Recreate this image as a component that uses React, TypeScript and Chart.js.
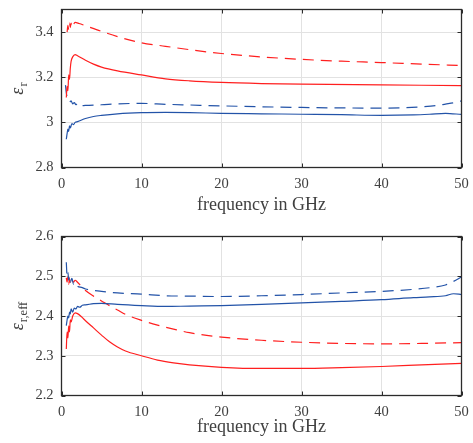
import React, { useEffect, useRef } from 'react';
import { Chart, registerables } from 'chart.js';

Chart.register(...registerables);

// ---------- tick labels ----------
const X_TICKS = [0, 10, 20, 30, 40, 50];
const TOP_Y_TICKS = [2.8, 3.0, 3.2, 3.4];
const BOT_Y_TICKS = [2.2, 2.3, 2.4, 2.5, 2.6];
const X_TITLE = 'frequency in GHz';

// ---------- top panel: eps_r ----------
const TOP_RED_DASH_F = [0.7, 0.8, 0.9, 1.0, 1.1, 1.2, 1.3, 1.7, 2.2, 3, 5, 7, 10, 13, 16, 20, 25, 30, 35, 40, 45, 50];
const TOP_RED_DASH_V = [3.40, 3.43, 3.41, 3.44, 3.42, 3.44, 3.42, 3.443, 3.438, 3.428, 3.403, 3.380, 3.352, 3.337, 3.322, 3.305, 3.290, 3.279, 3.271, 3.265, 3.258, 3.252];

const TOP_RED_SOLID_F = [0.6, 0.7, 0.8, 0.9, 1.0, 1.1, 1.2, 1.4, 1.7, 2, 3, 4, 5, 7, 10, 13, 16, 20, 25, 30, 40, 50];
const TOP_RED_SOLID_V = [3.11, 3.16, 3.14, 3.21, 3.19, 3.24, 3.27, 3.29, 3.30, 3.295, 3.275, 3.258, 3.245, 3.228, 3.21, 3.193, 3.184, 3.177, 3.172, 3.169, 3.166, 3.163];

const TOP_BLUE_DASH_F = [0.5, 0.6, 0.8, 1.0, 1.2, 1.4, 1.6, 1.8, 2.0, 2.3, 3, 5, 7, 10, 13, 16, 20, 25, 30, 35, 40, 43, 45, 47, 48, 49, 50];
const TOP_BLUE_DASH_V = [3.165, 3.13, 3.105, 3.09, 3.095, 3.082, 3.088, 3.078, 3.084, 3.073, 3.075, 3.078, 3.082, 3.084, 3.080, 3.077, 3.073, 3.069, 3.066, 3.064, 3.063, 3.065, 3.069, 3.075, 3.081, 3.087, 3.095];

const TOP_BLUE_SOLID_F = [0.6, 0.7, 0.8, 0.9, 1.0, 1.1, 1.3, 1.5, 1.7, 2.0, 3, 4, 5, 7, 10, 13, 16, 20, 25, 30, 35, 40, 44, 46, 48, 50];
const TOP_BLUE_SOLID_V = [2.925, 2.95, 2.97, 2.96, 2.985, 2.975, 2.995, 2.99, 3.00, 3.003, 3.017, 3.026, 3.031, 3.038, 3.043, 3.044, 3.043, 3.040, 3.038, 3.036, 3.034, 3.031, 3.033, 3.036, 3.040, 3.035];

// ---------- bottom panel: eps_r,eff ----------
const BOT_BLUE_DASH_F = [0.6, 0.7, 0.8, 0.9, 1.0, 1.1, 1.3, 1.5, 1.7, 2.0, 2.5, 3, 5, 7, 10, 13, 16, 20, 25, 30, 35, 40, 44, 46, 48, 49, 50];
const BOT_BLUE_DASH_V = [2.535, 2.50, 2.51, 2.49, 2.50, 2.485, 2.495, 2.48, 2.485, 2.475, 2.472, 2.468, 2.462, 2.458, 2.455, 2.451, 2.450, 2.449, 2.451, 2.454, 2.458, 2.462, 2.467, 2.471, 2.478, 2.487, 2.498];

const BOT_BLUE_SOLID_F = [0.6, 0.7, 0.8, 0.9, 1.0, 1.1, 1.2, 1.4, 1.6, 1.8, 2.0, 2.3, 2.6, 3, 4, 5, 7, 10, 13, 16, 20, 25, 30, 35, 40, 44, 46, 48, 49, 50];
const BOT_BLUE_SOLID_V = [2.376, 2.39, 2.40, 2.395, 2.41, 2.405, 2.418, 2.41, 2.42, 2.418, 2.424, 2.422, 2.427, 2.428, 2.431, 2.432, 2.429, 2.426, 2.424, 2.425, 2.426, 2.429, 2.433, 2.437, 2.441, 2.446, 2.448, 2.451, 2.456, 2.454];

const BOT_RED_DASH_F = [0.6, 0.7, 0.8, 0.9, 1.0, 1.1, 1.3, 1.5, 1.7, 2.0, 2.5, 3, 4, 5, 6, 7, 8, 10, 12, 14, 16, 20, 25, 30, 35, 40, 45, 50];
const BOT_RED_DASH_V = [2.496, 2.485, 2.50, 2.48, 2.495, 2.48, 2.49, 2.485, 2.49, 2.485, 2.474, 2.464, 2.45, 2.438, 2.426, 2.415, 2.404, 2.389, 2.377, 2.367, 2.358, 2.347, 2.339, 2.334, 2.331, 2.330, 2.331, 2.333];

const BOT_RED_SOLID_F = [0.6, 0.7, 0.8, 0.9, 1.0, 1.1, 1.2, 1.4, 1.7, 2.0, 2.5, 3, 4, 5, 6, 7, 8, 10, 12, 14, 16, 20, 25, 30, 35, 40, 45, 50];
const BOT_RED_SOLID_V = [2.317, 2.36, 2.345, 2.375, 2.36, 2.39, 2.385, 2.40, 2.408, 2.406, 2.398, 2.388, 2.370, 2.352, 2.335, 2.322, 2.312, 2.300, 2.289, 2.282, 2.277, 2.271, 2.268, 2.268, 2.270, 2.273, 2.277, 2.281];

// ---------- styles ----------
const RED = '#ff1f1f';
const BLUE = '#2353a8';
const DASH = [11, 7];
const TEXT = '#404040';
const AXIS = '#2b2b2b';
const GRID = '#e2e2e2';
const FONT = "'Liberation Serif', 'Times New Roman', serif";

const pts = (f: number[], v: number[]) => f.map((x, i) => ({ x, y: v[i] }));

const line = (f: number[], v: number[], color: string, dashed: boolean) => ({
  data: pts(f, v),
  borderColor: color,
  borderWidth: 1.2,
  borderDash: dashed ? DASH : [],
  pointRadius: 0,
  fill: false,
  cubicInterpolationMode: 'monotone' as const,
});

const fmt = (v: number) => String(Number(v.toFixed(2)));

function framePlugin(sub: string) {
  return {
    id: 'frame',
    afterDatasetsDraw(chart: any) {
      const { ctx, chartArea: a, scales } = chart;
      ctx.save();
      ctx.strokeStyle = AXIS;
      ctx.lineWidth = 1;
      ctx.beginPath();
      for (const t of scales.x.ticks) {
        const px = Math.round(scales.x.getPixelForValue(t.value)) + 0.5;
        ctx.moveTo(px, a.bottom); ctx.lineTo(px, a.bottom - 4);
        ctx.moveTo(px, a.top); ctx.lineTo(px, a.top + 4);
      }
      for (const t of scales.y.ticks) {
        const py = Math.round(scales.y.getPixelForValue(t.value)) + 0.5;
        ctx.moveTo(a.left, py); ctx.lineTo(a.left + 4, py);
        ctx.moveTo(a.right, py); ctx.lineTo(a.right - 4, py);
      }
      ctx.stroke();
      ctx.lineWidth = 1.3;
      ctx.strokeRect(a.left, a.top, a.right - a.left, a.bottom - a.top);

      // y-axis title: epsilon with subscript
      const yc = (a.top + a.bottom) / 2;
      ctx.translate(23, yc);
      ctx.rotate(-Math.PI / 2);
      ctx.fillStyle = TEXT;
      ctx.textBaseline = 'alphabetic';
      ctx.textAlign = 'left';
      const mainFont = `italic 18px ${FONT}`;
      const subFont = `12.5px ${FONT}`;
      ctx.font = mainFont;
      const w1 = ctx.measureText('ε').width;
      ctx.font = subFont;
      const w2 = ctx.measureText(sub).width;
      const x0 = -(w1 + w2 + 1) / 2;
      ctx.font = mainFont;
      ctx.fillText('ε', x0, 0);
      ctx.font = subFont;
      ctx.fillText(sub, x0 + w1 + 1, 3.5);
      ctx.restore();
    },
  };
}

function makeConfig(
  datasets: any[],
  yTicks: number[],
  yMin: number,
  yMax: number,
  sub: string,
  topPad: number,
  xHeight: number,
  titlePad: number
): any {
  return {
    type: 'line',
    data: { datasets },
    options: {
      animation: false,
      responsive: false,
      events: [],
      layout: { padding: { left: 0, right: 11.5, top: topPad, bottom: 0 } },
      plugins: { legend: { display: false }, tooltip: { enabled: false } },
      scales: {
        x: {
          type: 'linear',
          min: 0,
          max: 50,
          afterBuildTicks: (s: any) => { s.ticks = X_TICKS.map((value) => ({ value })); },
          afterFit: (s: any) => { s.height = xHeight; s.paddingLeft = 0; s.paddingRight = 0; },
          grid: { color: GRID, lineWidth: 1, drawTicks: false },
          border: { display: false },
          ticks: { color: TEXT, font: { family: FONT, size: 14.5 }, padding: 8, maxRotation: 0, callback: (v: any) => fmt(Number(v)) },
          title: { display: true, text: X_TITLE, color: TEXT, font: { family: FONT, size: 18 }, padding: { top: 0, bottom: titlePad } },
        },
        y: {
          type: 'linear',
          min: yMin,
          max: yMax,
          afterBuildTicks: (s: any) => { s.ticks = yTicks.map((value) => ({ value })); },
          afterFit: (s: any) => { s.width = 61.5; s.paddingTop = 0; s.paddingBottom = 0; },
          grid: { color: GRID, lineWidth: 1, drawTicks: false },
          border: { display: false },
          ticks: { color: TEXT, font: { family: FONT, size: 14.5 }, padding: 8, callback: (v: any) => fmt(Number(v)) },
        },
      },
    },
    plugins: [framePlugin(sub)],
  };
}

export default function App() {
  const topRef = useRef<HTMLCanvasElement>(null);
  const botRef = useRef<HTMLCanvasElement>(null);

  useEffect(() => {
    const top = new Chart(
      topRef.current as HTMLCanvasElement,
      makeConfig(
        [
          line(TOP_RED_DASH_F, TOP_RED_DASH_V, RED, true),
          line(TOP_RED_SOLID_F, TOP_RED_SOLID_V, RED, false),
          line(TOP_BLUE_DASH_F, TOP_BLUE_DASH_V, BLUE, true),
          line(TOP_BLUE_SOLID_F, TOP_BLUE_SOLID_V, BLUE, false),
        ],
        TOP_Y_TICKS, 2.8, 3.5, 'r', 9.5, 53.5, 4.5
      )
    );
    const bot = new Chart(
      botRef.current as HTMLCanvasElement,
      makeConfig(
        [
          line(BOT_BLUE_DASH_F, BOT_BLUE_DASH_V, BLUE, true),
          line(BOT_BLUE_SOLID_F, BOT_BLUE_SOLID_V, BLUE, false),
          line(BOT_RED_DASH_F, BOT_RED_DASH_V, RED, true),
          line(BOT_RED_SOLID_F, BOT_RED_SOLID_V, RED, false),
        ],
        BOT_Y_TICKS, 2.2, 2.6, 'r,eff', 15.5, 47.5, 4.9
      )
    );
    return () => { top.destroy(); bot.destroy(); };
  }, []);

  return (
    <div style={{ position: 'fixed', left: 0, top: 0, width: 473, height: 443, background: '#fff' }}>
      <canvas ref={topRef} width={473} height={221} style={{ display: 'block', width: 473, height: 221 }} />
      <canvas ref={botRef} width={473} height={222} style={{ display: 'block', width: 473, height: 222 }} />
    </div>
  );
}
